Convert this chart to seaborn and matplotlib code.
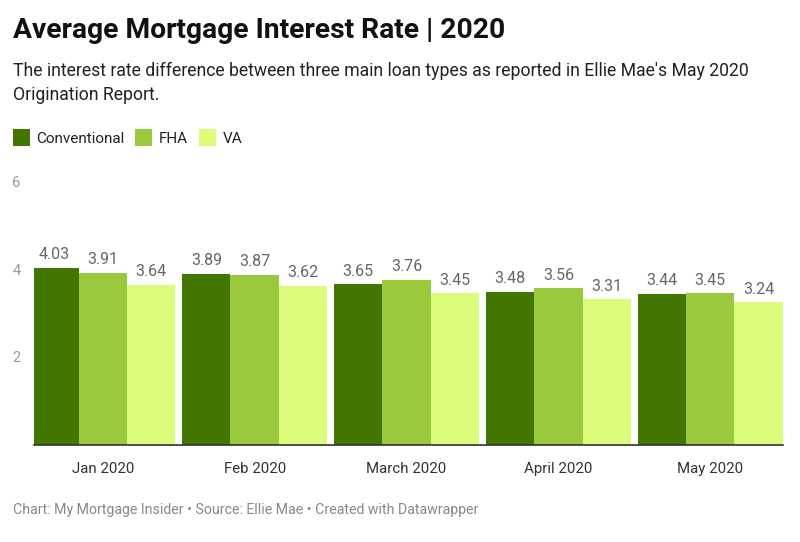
import matplotlib
matplotlib.use("Agg")
import matplotlib.pyplot as plt
import matplotlib.patches as mpatches
import seaborn as sns
import pandas as pd

months = ['Jan 2020', 'Feb 2020', 'March 2020', 'April 2020', 'May 2020']
loan_types = ['Conventional', 'FHA', 'VA']
conventional = [4.03, 3.89, 3.65, 3.48, 3.44]
fha = [3.91, 3.87, 3.76, 3.56, 3.45]
va = [3.64, 3.62, 3.45, 3.31, 3.24]
y_ticks = [2, 4, 6]

colors = ['#437600', '#9ac93d', '#dbfd7b']

df = pd.DataFrame({'month': months * 3,
                   'loan': [l for l in loan_types for _ in months],
                   'rate': conventional + fha + va})

sns.set_theme(style="white")
plt.rcParams['font.family'] = ['Roboto', 'DejaVu Sans']

fig = plt.figure(figsize=(8, 5.42), dpi=100)
ax = fig.add_axes([0.043, 0.179, 0.936, 0.487])

sns.barplot(data=df, x='month', y='rate', hue='loan', order=months, hue_order=loan_types,
            palette=colors, width=0.955, gap=0, saturation=1, ax=ax, legend=False,
            edgecolor='none', linewidth=0)

for cont in ax.containers:
    labels = [f'{v:.2f}' for v in cont.datavalues]
    ax.bar_label(cont, labels=labels, padding=4, color='#666666', fontsize=11.5)

ax.set_xlim(-0.45, 4.48)
ax.set_ylim(0, 6)
ax.set_yticks(y_ticks)
ax.set_xlabel('')
ax.set_ylabel('')
for s in ['top', 'right', 'left']:
    ax.spines[s].set_visible(False)
ax.spines['bottom'].set_color('#333333')
ax.spines['bottom'].set_linewidth(1.2)
ax.tick_params(axis='y', length=0, labelsize=10.5, labelcolor='#999999', pad=10)
ax.tick_params(axis='x', length=0, labelsize=10.8, labelcolor='#333333', pad=12)

fig.text(0.016, 0.968, 'Average Mortgage Interest Rate | 2020', fontsize=20.3,
         fontweight='bold', color='#111111', va='top')
fig.text(0.016, 0.886, "The interest rate difference between three main loan types as reported in Ellie Mae's May 2020\nOrigination Report.",
         fontsize=12.7, color='#222222', va='top', linespacing=1.45)

handles = [mpatches.Patch(facecolor=c, edgecolor='none', label=l) for c, l in zip(colors, loan_types)]
fig.legend(handles=handles, loc='upper left', bbox_to_anchor=(0.016, 0.762), ncol=3,
           frameon=False, fontsize=11, handlelength=1.1, handleheight=1.35,
           handletextpad=0.45, columnspacing=0.7, labelcolor='#222222',
           borderpad=0, borderaxespad=0)

fig.text(0.016, 0.059, 'Chart: My Mortgage Insider • Source: Ellie Mae • Created with Datawrapper',
         fontsize=10.2, color='#888888', va='center')

fig.savefig('out.png', dpi=100)
